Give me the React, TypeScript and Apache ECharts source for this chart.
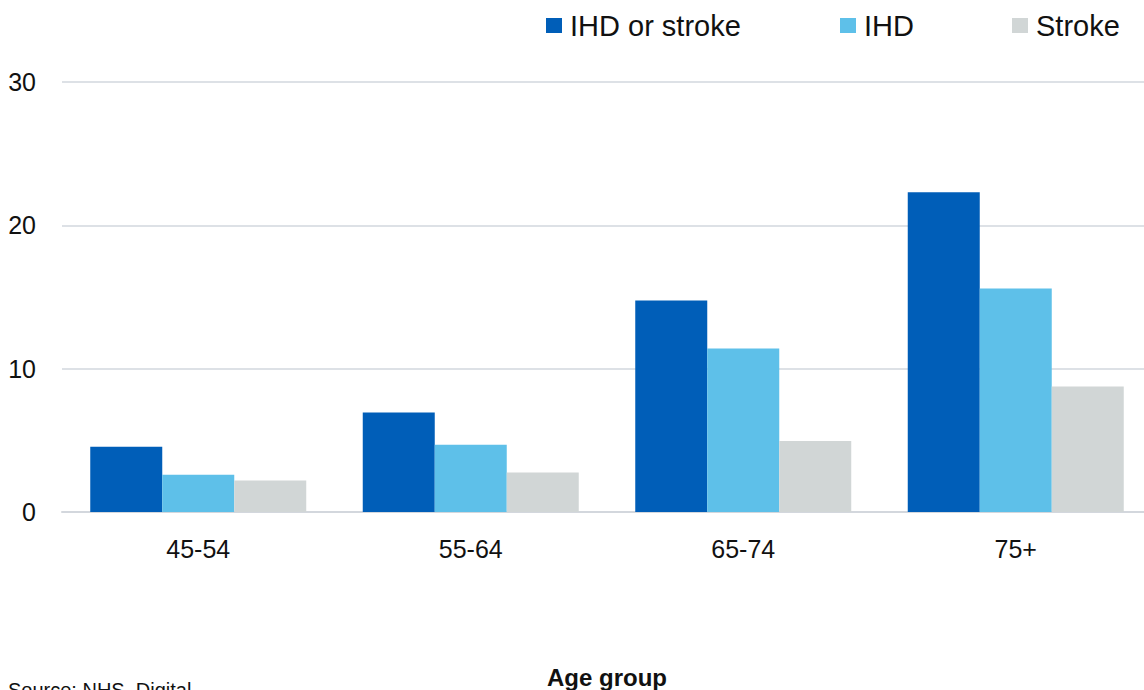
import React, { useEffect, useRef } from "react";
import * as echarts from "echarts";

const categories = ["45-54", "55-64", "65-74", "75+"];
const ihdOrStroke = [4.55, 6.95, 14.75, 22.3];
const ihd = [2.6, 4.7, 11.4, 15.6];
const stroke = [2.2, 2.75, 4.95, 8.75];
const yTicks = [0, 10, 20, 30];

const FONT = "'Liberation Sans', Arial, sans-serif";
const TEXT = "#111111";

export default function App() {
  const ref = useRef<HTMLDivElement>(null);
  useEffect(() => {
    if (!ref.current) return;
    const chart = echarts.init(ref.current, undefined, { renderer: "svg" });
    const legendBase = {
      top: 11,
      itemWidth: 16,
      itemHeight: 15,
      itemGap: 0,
      icon: "rect",
      textStyle: { fontFamily: FONT, fontSize: 29, color: TEXT, padding: [0, 0, 0, 3] },
      padding: 0,
    };
    chart.setOption({
      animation: false,
      backgroundColor: "#ffffff",
      textStyle: { fontFamily: FONT },
      legend: [
        { ...legendBase, left: 546, data: ["IHD or stroke"] },
        { ...legendBase, left: 840, data: ["IHD"] },
        { ...legendBase, left: 1012, data: ["Stroke"] },
      ],
      grid: {
        left: 62,
        right: -8,
        top: 82,
        bottom: 178,
        containLabel: false,
        outerBoundsMode: "none",
      },
      xAxis: {
        type: "category",
        data: categories,
        name: "Age group",
        nameLocation: "middle",
        nameGap: 153,
        nameTextStyle: { fontFamily: FONT, fontSize: 24, fontWeight: "bold", color: TEXT },
        axisTick: { show: false },
        axisLine: { lineStyle: { color: "#d3d7dd", width: 2 } },
        axisLabel: { fontFamily: FONT, fontSize: 25, color: TEXT, margin: 24 },
      },
      yAxis: {
        type: "value",
        min: yTicks[0],
        max: yTicks[yTicks.length - 1],
        interval: 10,
        axisLine: { show: false },
        axisTick: { show: false },
        splitLine: { lineStyle: { color: "#dde1e6", width: 2 } },
        axisLabel: { fontFamily: FONT, fontSize: 25, color: TEXT, margin: 26 },
      },
      graphic: [
        {
          type: "text",
          left: 8,
          top: 680,
          style: { text: "Source: NHS  Digital", fontFamily: FONT, fontSize: 20, fill: TEXT },
        },
      ],
      series: [
        {
          name: "IHD or stroke",
          type: "bar",
          data: ihdOrStroke,
          barWidth: 72,
          barGap: "0%",
          itemStyle: { color: "#005eb8" },
        },
        {
          name: "IHD",
          type: "bar",
          data: ihd,
          barWidth: 72,
          barGap: "0%",
          itemStyle: { color: "#5ec0e9" },
        },
        {
          name: "Stroke",
          type: "bar",
          data: stroke,
          barWidth: 72,
          barGap: "0%",
          itemStyle: { color: "#d1d6d6" },
        },
      ],
    });
    return () => chart.dispose();
  }, []);
  return (
    <div
      ref={ref}
      style={{ position: "fixed", left: 0, top: 0, width: 1144, height: 690, background: "#fff" }}
    />
  );
}
